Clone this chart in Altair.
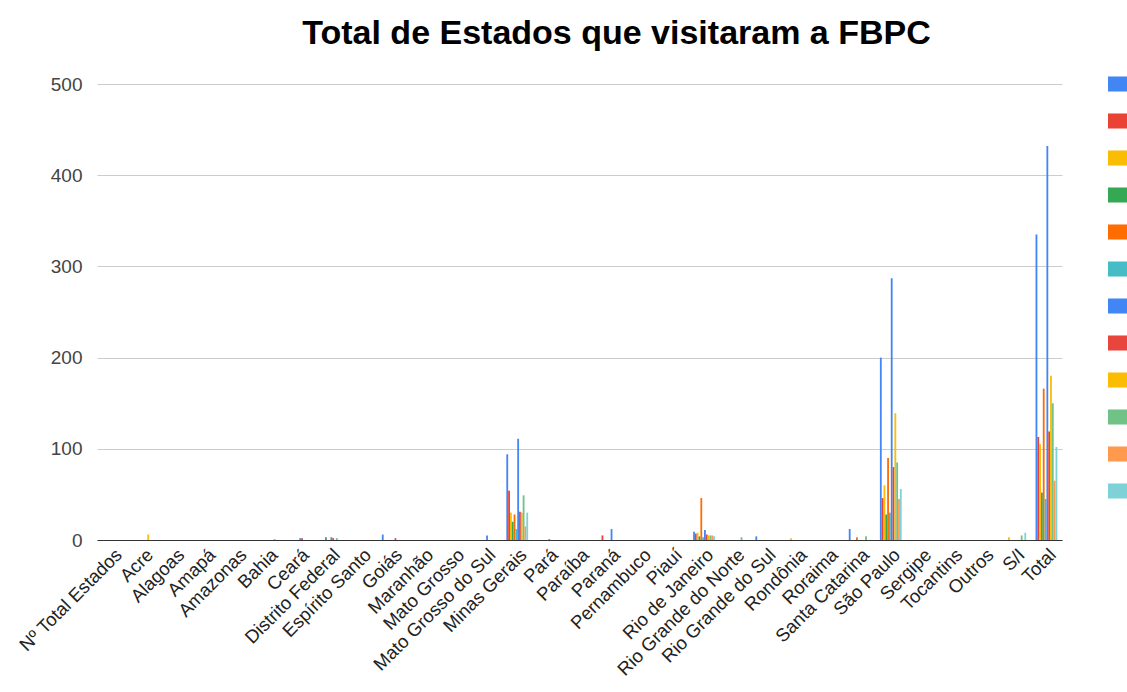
import altair as alt
import pandas as pd

categories = ["Nº Total Estados", "Acre", "Alagoas", "Amapá", "Amazonas", "Bahia", "Ceará",
              "Distrito Federal", "Espírito Santo", "Goiás", "Maranhão", "Mato Grosso",
              "Mato Grosso do Sul", "Minas Gerais", "Pará", "Paraíba", "Paraná", "Pernambuco",
              "Piauí", "Rio de Janeiro", "Rio Grande do Norte", "Rio Grande do Sul", "Rondônia",
              "Roraima", "Santa Catarina", "São Paulo", "Sergipe", "Tocantins", "Outros", "S/I", "Total"]

series_names = ["Janeiro", "Fevereiro", "Março", "Abril", "Maio", "Junho",
                "Julho", "Agosto", "Setembro", "Outubro", "Novembro", "Dezembro"]

colors = ["#4285f4", "#ea4335", "#fbbc04", "#34a853", "#ff6d01", "#46bdc6",
          "#4285f4", "#e8453c", "#fbbc04", "#71c287", "#ff994d", "#7ed1d7"]

s01 = [0, 0, 0, 0, 0, 0, 0, 0, 0, 6, 0, 0, 0, 94, 0, 0, 0, 0, 0, 9, 0, 4, 0, 0, 12, 200, 0, 0, 0, 0, 335]
s02 = [0, 0, 0, 0, 0, 0, 0, 0, 0, 0, 0, 0, 0, 54, 0, 0, 5, 0, 0, 7, 0, 0, 0, 0, 0, 46, 0, 0, 0, 0, 113]
s03 = [0, 0, 0, 0, 0, 0, 0, 0, 0, 0, 0, 0, 0, 30, 0, 0, 0, 0, 0, 8, 0, 0, 2, 0, 0, 60, 0, 0, 0, 3, 105]
s04 = [0, 0, 0, 0, 0, 0, 0, 3, 0, 0, 0, 0, 0, 20, 0, 0, 0, 0, 0, 4, 0, 0, 0, 0, 0, 28, 0, 0, 0, 0, 52]
s05 = [0, 0, 0, 0, 0, 0, 0, 0, 0, 0, 0, 0, 0, 28, 0, 0, 0, 0, 0, 46, 0, 0, 0, 0, 3, 90, 0, 0, 0, 0, 166]
s06 = [0, 0, 0, 0, 0, 0, 0, 0, 0, 0, 0, 0, 0, 12, 0, 0, 0, 0, 0, 3, 0, 0, 0, 0, 0, 30, 0, 0, 0, 0, 45]
s07 = [0, 0, 0, 0, 0, 0, 2, 3, 0, 0, 0, 0, 5, 111, 1, 0, 12, 0, 0, 11, 0, 0, 0, 0, 0, 287, 0, 0, 0, 0, 432]
s08 = [0, 0, 0, 0, 0, 0, 2, 2, 0, 2, 0, 0, 0, 31, 0, 0, 0, 0, 0, 6, 0, 0, 0, 0, 0, 80, 0, 0, 0, 0, 119]
s09 = [0, 6, 0, 0, 0, 0, 0, 0, 0, 0, 0, 0, 0, 30, 0, 0, 0, 0, 0, 5, 0, 0, 0, 0, 0, 139, 0, 0, 0, 0, 180]
s10 = [0, 0, 0, 0, 0, 1, 0, 2, 0, 0, 0, 0, 0, 49, 0, 0, 0, 0, 0, 5, 3, 0, 0, 0, 4, 85, 0, 0, 0, 5, 150]
s11 = [0, 0, 0, 0, 0, 0, 0, 0, 0, 0, 0, 0, 0, 15, 0, 0, 0, 0, 0, 5, 0, 0, 0, 0, 0, 45, 0, 0, 0, 0, 65]
s12 = [0, 0, 0, 0, 0, 0, 0, 0, 0, 0, 0, 0, 0, 30, 0, 0, 0, 0, 0, 4, 0, 0, 0, 0, 0, 56, 0, 0, 0, 8, 102]

all_series = [s01, s02, s03, s04, s05, s06, s07, s08, s09, s10, s11, s12]

rows = []
for si, (name, vals) in enumerate(zip(series_names, all_series)):
    for ci, (cat, v) in enumerate(zip(categories, vals)):
        rows.append({"Estado": cat, "Série": name, "ordem": si, "Valor": v})
df = pd.DataFrame(rows)

FONT = "Liberation Sans"

chart = alt.Chart(df).mark_bar().encode(
    x=alt.X("Estado:N", sort=categories, title=None,
            scale=alt.Scale(paddingInner=0.3, paddingOuter=0.15),
            axis=alt.Axis(labelAngle=-45, labelFontSize=18.5, labelColor="#222222",
                          labelFont=FONT, ticks=False, domainColor="#333333",
                          labelPadding=5, labelOverlap=False, labelLimit=0)),
    xOffset=alt.XOffset("Série:N", sort=series_names, scale=alt.Scale(paddingInner=0, paddingOuter=0)),
    y=alt.Y("Valor:Q", title=None,
            scale=alt.Scale(domain=[0, 500], nice=False),
            axis=alt.Axis(values=[0, 100, 200, 300, 400, 500], labelFontSize=19,
                          labelColor="#444444", labelFont=FONT, domain=False, ticks=False,
                          gridColor="#cccccc", labelPadding=15)),
    color=alt.Color("Série:N", sort=series_names,
                    scale=alt.Scale(domain=series_names, range=colors),
                    legend=alt.Legend(orient="none", legendX=1011, legendY=-8, title=None,
                                      symbolType="M-1,-0.94H1.6V0.94H-1Z", symbolSize=256,
                                      symbolStrokeWidth=0, symbolOpacity=1,
                                      labelExpr="''", labelFontSize=1, rowPadding=21,
                                      padding=0, symbolOffset=0)),
).properties(
    width=965,
    height=456,
    title=alt.TitleParams("Total de Estados que visitaram a FBPC", fontSize=34, font=FONT,
                          fontWeight="bold", color="#000000", anchor="middle", dx=37, offset=24),
    autosize=alt.AutoSizeParams(type="none"),
    padding={"left": 97, "top": 84, "right": 65, "bottom": 152},
).configure_view(stroke=None).configure_axisY(gridWidth=1)

chart.save("out.html", embed_options={"renderer": "svg", "actions": False})
